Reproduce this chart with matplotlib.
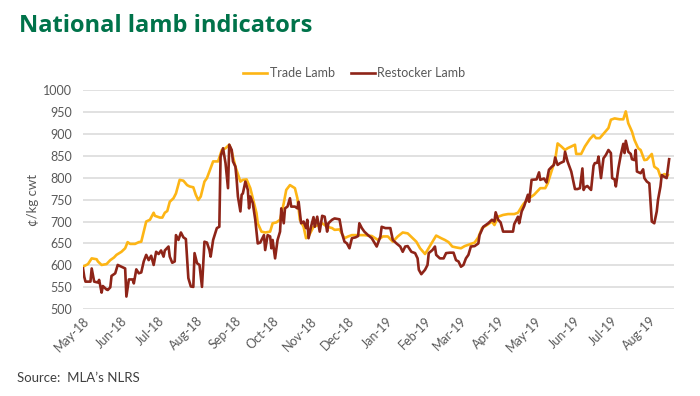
import pandas as pd
import matplotlib
matplotlib.use('Agg')
import matplotlib.pyplot as plt
import matplotlib.dates as mdates

# days since 1 May 2018
start_date = '2018-05-01'

trade_days = [0, 4, 7, 11, 12, 15, 19, 22, 25, 27, 31, 34, 36, 38, 42, 45, 47, 49, 51, 54,
              57, 58, 62, 64, 66, 68, 70, 73, 75, 78, 81, 84, 86, 89, 91, 93, 95, 98, 100, 102,
              105, 109, 112, 115, 118, 120, 123, 127, 129, 132, 135, 137, 140, 141, 144, 147,
              151, 153, 156, 159, 162, 164, 167, 171, 173, 175, 178, 180, 182, 186, 190, 193,
              197, 201, 203, 207, 211, 214, 217, 222, 227, 233, 238, 242, 246, 250, 254, 258,
              262, 266, 269, 272, 276, 278, 282, 285, 289, 292, 295, 298, 301, 305, 308, 312,
              316, 319, 322, 326, 330, 332, 335, 339, 343, 348, 351, 354, 356, 360, 364, 369,
              373, 375, 378, 381, 383, 386, 389, 391, 394, 397, 398, 402, 405, 409, 412, 414,
              417, 421, 424, 426, 429, 433, 436, 438, 440, 443, 445, 448, 450, 453, 455, 459,
              461, 464, 466, 469, 472]
trade_lamb = [597, 603, 616, 614, 609, 601, 603, 612, 618, 624, 631, 639, 653, 649, 649, 653, 654, 677, 700, 704,
              720, 713, 709, 709, 720, 724, 745, 753, 764, 795, 793, 783, 780, 778, 761, 749, 757, 791, 799, 814,
              837, 837, 863, 867, 875, 859, 825, 791, 795, 796, 776, 753, 719, 696, 677, 675,
              677, 696, 698, 704, 742, 772, 783, 776, 753, 704, 688, 662, 666, 688, 692, 696,
              688, 685, 681, 682, 662, 666, 669, 669, 669, 667, 658, 666, 666, 654, 666, 675,
              673, 662, 654, 639, 626, 635, 654, 668, 662, 658, 653, 643, 641, 639, 644, 648,
              652, 664, 685, 692, 700, 692, 711, 715, 717, 717, 720, 734, 742, 753, 761, 776,
              776, 787, 814, 840, 878, 871, 863, 867, 871, 875, 854, 854, 871, 888, 897, 890,
              890, 903, 913, 932, 935, 933, 933, 951, 924, 905, 886, 867, 863, 840, 841, 854,
              825, 819, 802, 808, 806]

restocker_days = [0, 1, 2, 6, 7, 9, 12, 13, 15, 16, 19, 20, 22, 23, 26, 28, 31, 34, 35, 37,
                  40, 41, 43, 45, 47, 49, 51, 53, 55, 57, 59, 61, 63, 65, 66, 69, 70, 72, 74, 75,
                  77, 79, 81, 83, 85, 87, 89, 90, 92, 94, 96, 98, 100, 102, 103, 105, 108, 110, 111, 113,
                  115, 117, 118, 120, 121, 123, 124, 125, 127, 128, 129, 131, 133, 134, 135, 137, 139, 141,
                  143, 146, 147, 149, 151, 152, 153, 155, 157, 159, 160, 162, 163, 165, 167, 168, 171, 173,
                  174, 176, 178, 180, 181, 182, 184, 186, 187, 189, 191, 193, 195, 197, 198, 201, 203, 207,
                  209, 211, 213, 215, 217, 220, 222, 223, 225, 227, 230, 233, 237, 240, 241, 244, 248, 250,
                  253, 256, 258, 260, 262, 265, 268, 270, 271, 273, 276, 278, 279, 282, 284, 285, 288, 291,
                  293, 296, 299, 301, 303, 305, 307, 309, 311, 313, 316, 319, 320, 323, 327, 330, 332, 333,
                  335, 337, 339, 342, 347, 348, 351, 352, 354, 356, 359, 360, 362, 366, 368, 369, 372, 374,
                  376, 378, 380, 381, 383, 385, 388, 389, 391, 394, 397, 399, 401, 403, 404, 405, 407, 410,
                  412, 413, 415, 416, 418, 420, 422, 424, 426, 427, 429, 430, 432, 434, 436, 437, 438, 440,
                  442, 443, 445, 446, 447, 450, 452, 453, 455, 457, 459, 461, 463, 464, 466, 467, 469, 471,
                  473]
restocker_lamb = [593, 574, 563, 563, 593, 563, 561, 567, 538, 553, 545, 544, 550, 576, 582, 601, 597, 593, 529, 568,
                  568, 559, 591, 582, 584, 609, 624, 612, 622, 601, 631, 626, 634, 620, 634, 643, 620, 606, 609, 669,
                  658, 675, 664, 660, 571, 552, 551, 628, 605, 601, 551, 654, 652, 635, 620, 658, 685, 688, 848, 867,
                  833, 776, 875, 863, 837, 825, 795, 757, 723, 761, 764, 791, 772, 730, 757, 742, 704, 650,
                  652, 669, 635, 669, 666, 639, 658, 616, 658, 677, 730, 696, 730, 734, 753, 734, 734, 730,
                  745, 696, 700, 685, 704, 662, 688, 710, 688, 711, 677, 713, 711, 677, 696, 704, 707, 705,
                  673, 654, 650, 639, 662, 664, 667, 696, 685, 677, 669, 662, 643, 666, 688, 685, 685, 658,
                  650, 643, 631, 643, 644, 631, 628, 616, 590, 580, 590, 601, 628, 635, 643, 624, 616, 616,
                  628, 629, 629, 612, 609, 597, 601, 616, 624, 643, 644, 650, 669, 688, 696, 704, 700, 721,
                  704, 698, 677, 677, 677, 694, 711, 696, 723, 735, 761, 745, 795, 796, 812, 795, 798, 789,
                  818, 824, 829, 846, 829, 833, 837, 859, 837, 814, 774, 774, 776, 821, 772, 778, 781, 772,
                  827, 833, 834, 848, 799, 844, 852, 863, 856, 799, 796, 780, 821, 852, 877, 856, 884, 859,
                  854, 842, 840, 863, 814, 810, 819, 799, 791, 787, 700, 696, 723, 749, 780, 806, 802, 799,
                  842]

y_ticks = list(range(500, 1001, 50))

plt.rcParams['font.family'] = ['Lato', 'DejaVu Sans']

t0 = pd.Timestamp(start_date)
trade_x = t0 + pd.to_timedelta(trade_days, unit='D')
restocker_x = t0 + pd.to_timedelta(restocker_days, unit='D')

fig = plt.figure(figsize=(7, 3.96), dpi=100)
ax = fig.add_axes([0.1186, 0.219, 0.963 - 0.1186, 0.773 - 0.219])

ax.plot(trade_x, trade_lamb, color='#FDB515', linewidth=1.9, label='Trade Lamb', zorder=3)
ax.plot(restocker_x, restocker_lamb, color='#8E2418', linewidth=1.9, label='Restocker Lamb', zorder=4)

ax.set_ylim(500, 1000)
ax.set_yticks(y_ticks)
ax.set_xlim(t0, t0 + pd.Timedelta(days=477))
ax.xaxis.set_major_locator(mdates.MonthLocator())
ax.xaxis.set_major_formatter(mdates.DateFormatter('%b-%y'))

ax.grid(axis='y', color='#D9D9D9', linewidth=1.1)
ax.set_axisbelow(True)
for s in ax.spines.values():
    s.set_visible(False)
ax.tick_params(axis='both', length=0, colors='#595959', labelsize=9)
ax.tick_params(axis='y', pad=8)
ax.tick_params(axis='x', pad=4)
for lbl in ax.get_xticklabels():
    lbl.set_rotation(45)
    lbl.set_ha('right')
    lbl.set_rotation_mode('anchor')

fig.text(33 / 700, 1 - 200 / 396, '¢/kg cwt', rotation=90, ha='center', va='center',
         color='#595959', fontsize=9.5)

fig.text(19 / 700, 1 - 26 / 396, 'National lamb indicators', ha='left', va='center',
         color='#00734A', fontsize=17, fontweight='bold', family=['Open Sans', 'DejaVu Sans'])
fig.text(17 / 700, 1 - 378 / 396, 'Source:  MLA\u2019s NLRS', ha='left', va='center',
         color='#404040', fontsize=9.5)

fig.legend(loc='center', bbox_to_anchor=(0.506, 1 - 73 / 396), ncol=2, frameon=False,
           fontsize=9, handlelength=1.9, handletextpad=0.2, columnspacing=1.3,
           labelcolor='#595959')

fig.savefig('out.png', dpi=100)
